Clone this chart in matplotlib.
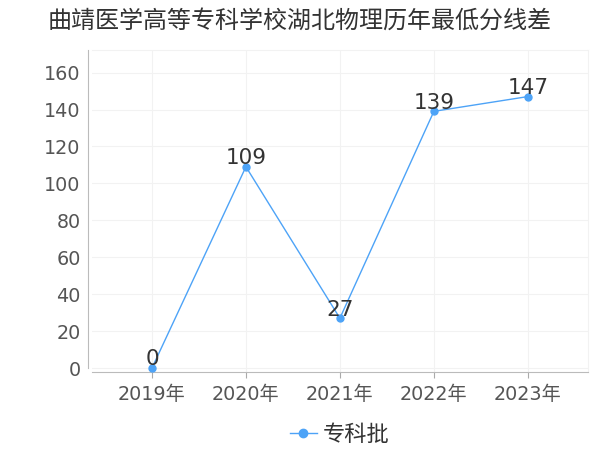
import matplotlib
matplotlib.use("Agg")
import matplotlib.pyplot as plt

plt.rcParams['font.family'] = ['DejaVu Sans', 'Noto Sans CJK SC']

years = ["2019年", "2020年", "2021年", "2022年", "2023年"]
scores = [0, 109, 27, 139, 147]
series_name = "专科批"
title = "曲靖医学高等专科学校湖北物理历年最低分线差"
yticks = [0, 20, 40, 60, 80, 100, 120, 140, 160]

line_color = "#4da3f7"

fig = plt.figure(figsize=(6, 4.5), dpi=100)
ax = fig.add_axes([0.153, 0.173, 0.827, 0.715])

x = list(range(len(years)))
ax.plot(x, scores, color=line_color, linewidth=1.0, marker="o", markersize=5,
        label=series_name, zorder=3)
for xi, v in zip(x, scores):
    ax.annotate(str(v), (xi, v), xytext=(0, -1), textcoords="offset points",
                ha="center", va="bottom", fontsize=15.5, color="#333333", zorder=4)

ax.set_xlim(-0.64, 4.64)
ax.set_ylim(-2.2, 172)
ax.set_xticks(x)
ax.set_xticklabels(years)
ax.set_yticks(yticks)
ax.tick_params(axis="x", colors="#aaaaaa", labelcolor="#555555", labelsize=13.8,
               length=4, pad=5)
ax.tick_params(axis="y", colors="#aaaaaa", labelcolor="#555555", labelsize=13.8,
               length=0, pad=5)

ax.grid(True, color="#f2f2f2", linewidth=0.8)
ax.set_axisbelow(True)
for s in ["top", "right"]:
    ax.spines[s].set_color("#f2f2f2")
ax.spines["left"].set_color("#bbbbbb")
ax.spines["bottom"].set_color("#bbbbbb")
ax.spines["left"].set_position(("outward", 3))
ax.spines["left"].set_bounds(0, 172)

fig.suptitle(title, fontsize=17.3, color="#333333", x=0.5, y=0.98)
ax.legend(loc="upper center", bbox_to_anchor=(0.5, -0.1), frameon=False,
          fontsize=16, handlelength=1.2, handletextpad=0.3, markerscale=1.2,
          labelcolor="#333333")

fig.savefig("out.png", dpi=100)
